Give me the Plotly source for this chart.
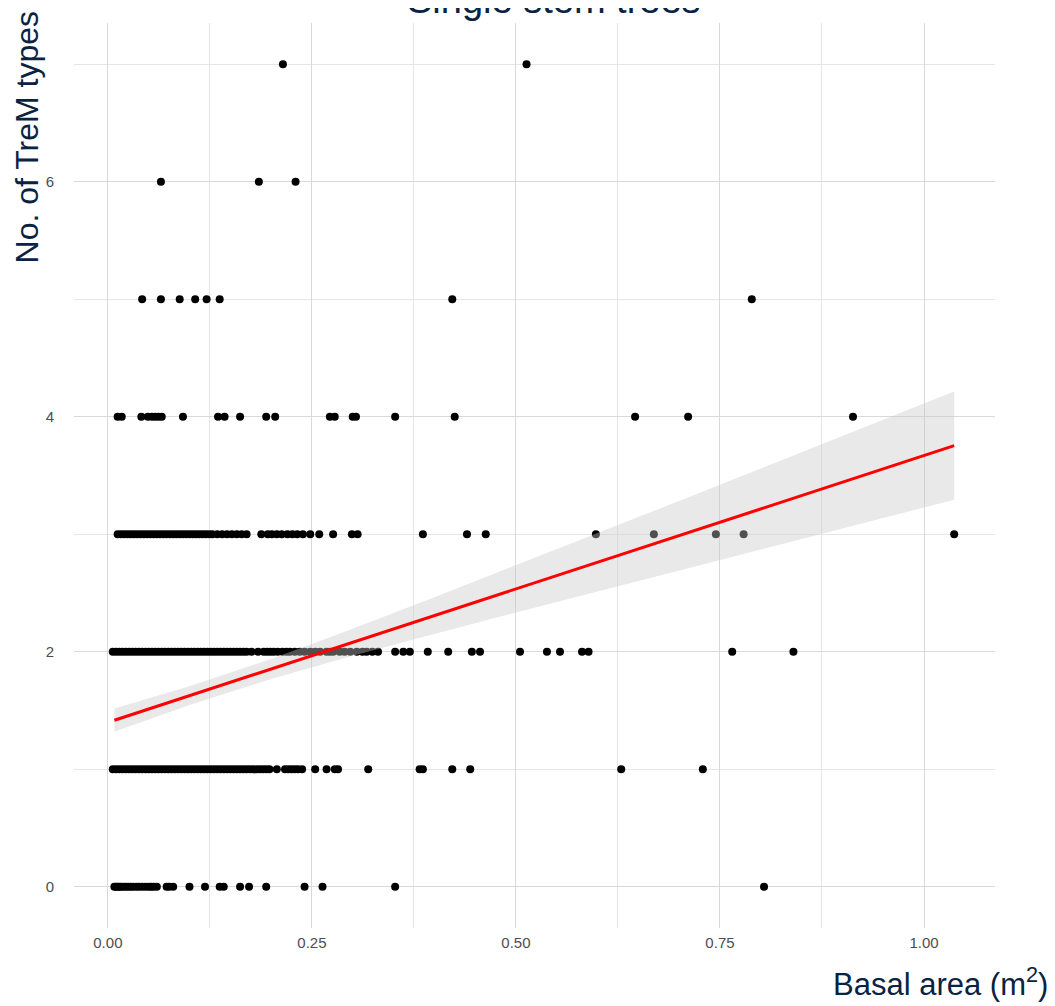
import plotly.graph_objects as go

# basal area (m2) of trees, grouped by observed number of TreM types
basal_0 = [0.008, 0.010, 0.012, 0.014, 0.016, 0.019, 0.022, 0.025, 0.028, 0.031,
           0.035, 0.038, 0.042, 0.046, 0.050, 0.053, 0.056, 0.060, 0.072, 0.075,
           0.080, 0.100, 0.119, 0.137, 0.142, 0.162, 0.173, 0.194, 0.241, 0.263,
           0.352, 0.804]
basal_1 = [0.006, 0.010, 0.014, 0.018, 0.022, 0.026, 0.030, 0.034, 0.038, 0.042,
           0.046, 0.050, 0.054, 0.058, 0.062, 0.066, 0.070, 0.074, 0.078, 0.082,
           0.086, 0.090, 0.094, 0.098, 0.102, 0.106, 0.110, 0.114, 0.118, 0.122,
           0.126, 0.130, 0.134, 0.138, 0.142, 0.146, 0.150, 0.154, 0.158, 0.162,
           0.166, 0.170, 0.174, 0.178, 0.182, 0.186, 0.190, 0.194, 0.198,
           0.207, 0.217, 0.221, 0.225, 0.229, 0.233, 0.238, 0.254, 0.268, 0.278,
           0.282, 0.319, 0.382, 0.386, 0.422, 0.444, 0.629, 0.729]
basal_2 = [0.006, 0.010, 0.014, 0.018, 0.022, 0.026, 0.030, 0.034, 0.038, 0.042,
           0.046, 0.050, 0.054, 0.058, 0.062, 0.066, 0.070, 0.074, 0.078, 0.082,
           0.086, 0.090, 0.094, 0.098, 0.102, 0.106, 0.110, 0.114, 0.118, 0.122,
           0.126, 0.130, 0.134, 0.138, 0.142, 0.146, 0.150, 0.154, 0.158, 0.162,
           0.166, 0.170, 0.176, 0.184, 0.191, 0.195, 0.199, 0.203, 0.208, 0.214,
           0.219, 0.223, 0.229, 0.235, 0.241, 0.248, 0.254, 0.260, 0.268, 0.272,
           0.276, 0.284, 0.290, 0.297, 0.305, 0.312, 0.317, 0.324, 0.331, 0.352,
           0.362, 0.370, 0.392, 0.417, 0.446, 0.456, 0.505, 0.538, 0.554, 0.581,
           0.589, 0.765, 0.840]
basal_3 = [0.012, 0.016, 0.020, 0.024, 0.028, 0.032, 0.036, 0.040, 0.044, 0.048,
           0.052, 0.056, 0.060, 0.064, 0.068, 0.072, 0.076, 0.080, 0.084, 0.088,
           0.092, 0.096, 0.100, 0.104, 0.108, 0.112, 0.116, 0.120, 0.124, 0.128,
           0.134, 0.140, 0.146, 0.152, 0.158, 0.164, 0.170, 0.188, 0.196, 0.201,
           0.207, 0.213, 0.220, 0.226, 0.232, 0.239, 0.248, 0.259, 0.276, 0.299,
           0.306, 0.386, 0.440, 0.463, 0.598, 0.669, 0.745, 0.779, 1.037]
basal_4 = [0.012, 0.017, 0.041, 0.049, 0.054, 0.058, 0.062, 0.066, 0.092, 0.135,
           0.143, 0.162, 0.194, 0.205, 0.272, 0.278, 0.300, 0.304, 0.352, 0.425,
           0.646, 0.711, 0.913]
basal_5 = [0.042, 0.065, 0.088, 0.107, 0.121, 0.137, 0.422, 0.789]
basal_6 = [0.065, 0.185, 0.230]
basal_7 = [0.2145, 0.513]

groups = [basal_0, basal_1, basal_2, basal_3, basal_4, basal_5, basal_6, basal_7]

# linear fit and 95% confidence band
fit_x = [0.008, 0.1, 0.2, 0.3, 0.4, 0.5, 0.6, 0.7, 0.8, 0.9, 1.037]
fit_y = [1.418, 1.627, 1.854, 2.081, 2.308, 2.535, 2.762, 2.989, 3.216, 3.443, 3.754]
fit_hi = [1.517, 1.706, 1.939, 2.196, 2.464, 2.736, 3.009, 3.284, 3.560, 3.836, 4.214]
fit_lo = [1.319, 1.548, 1.769, 1.966, 2.152, 2.334, 2.515, 2.694, 2.872, 3.050, 3.294]

navy = "#0a2342"
font_fam = "Liberation Sans, Arial, sans-serif"

xs, ys = [], []
for n, g in enumerate(groups):
    xs += g
    ys += [n] * len(g)

fig = go.Figure()
fig.add_trace(go.Scatter(x=xs, y=ys, mode="markers",
                         marker=dict(color="black", size=8, line=dict(width=0)),
                         showlegend=False))
fig.add_trace(go.Scatter(x=fit_x + fit_x[::-1], y=fit_hi + fit_lo[::-1],
                         fill="toself", fillcolor="rgba(200,200,200,0.4)",
                         line=dict(width=0), mode="lines", showlegend=False,
                         hoverinfo="skip"))
fig.add_trace(go.Scatter(x=fit_x, y=fit_y, mode="lines",
                         line=dict(color="#ff0000", width=3), showlegend=False))

fig.update_xaxes(range=[-0.0415, 1.087], dtick=0.25, tick0=0, tickformat=".2f",
                 showgrid=True, gridcolor="#d9d9d9", gridwidth=1,
                 minor=dict(dtick=0.125, tick0=0, showgrid=True,
                            gridcolor="#e6e6e6", gridwidth=1),
                 zeroline=False, showline=False, ticks="", automargin=False,
                 ticklabelstandoff=4,
                 tickfont=dict(size=15, color="#4d4d4d", family=font_fam))
fig.update_yaxes(range=[-0.35, 7.35], dtick=2, tick0=0,
                 showgrid=True, gridcolor="#d9d9d9", gridwidth=1,
                 minor=dict(dtick=1, tick0=0, showgrid=True,
                            gridcolor="#e6e6e6", gridwidth=1),
                 zeroline=False, showline=False, ticks="", automargin=False,
                 ticklabelstandoff=19,
                 tickfont=dict(size=15, color="#4d4d4d", family=font_fam))

fig.add_annotation(text="Single stem trees", xref="paper", yref="paper",
                   x=0.521, y=1.0, xanchor="center", yanchor="bottom",
                   showarrow=False, font=dict(size=38, color=navy, family=font_fam))
fig.add_annotation(text="No. of TreM types", xref="paper", yref="paper",
                   x=-0.05, y=1.0166, xanchor="center", yanchor="top",
                   textangle=-90, showarrow=False,
                   font=dict(size=32, color=navy, family=font_fam))
fig.add_annotation(text="Basal area (m<sup>2</sup>)", xref="paper", yref="paper",
                   x=1.0597, y=-0.084, xanchor="right", yanchor="bottom",
                   showarrow=False, font=dict(size=31, color=navy, family=font_fam))

# page body adds an 8px offset, so the figure is sized to fit the window
fig.update_layout(width=1047, height=998,
                  margin=dict(l=66, r=60, t=15, b=78),
                  plot_bgcolor="white", paper_bgcolor="white",
                  showlegend=False)

fig.write_html("out.html")
